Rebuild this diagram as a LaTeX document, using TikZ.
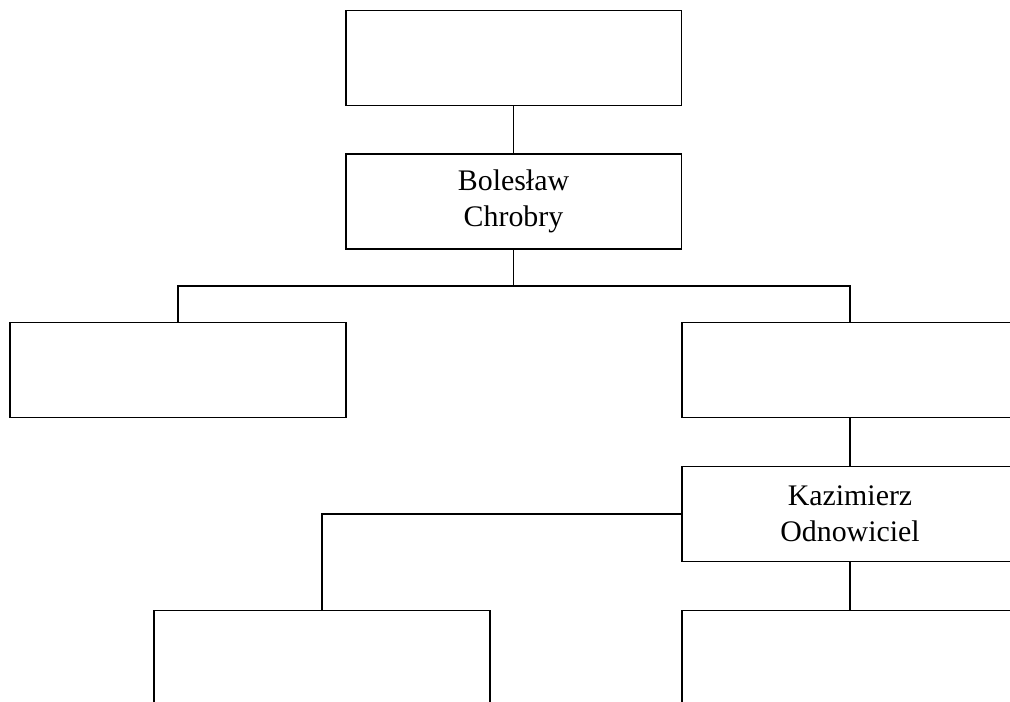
\documentclass[tikz,border=0pt]{standalone}
\usepackage{fontspec}
\setmainfont{Liberation Serif}
\usepackage{tikz}

\tikzset{
  osoba/.style={draw, line width=1.1pt, minimum width=6.72cm, minimum height=1.9cm,
    align=center, inner sep=2pt, font=\fontsize{17}{20.5}\selectfont},
  linia/.style={line width=1.1pt}
}

\begin{document}
\begin{tikzpicture}[x=0.02cm,y=-0.02cm]
\clip (0,0) rectangle (1010,702);
\node[osoba] (ojciec) at (513.5,58) {};
\node[osoba] (chrobry) at (513.5,201.5) {Bolesław\\Chrobry};
\node[osoba] (lewy) at (178,370) {};
\node[osoba] (prawy) at (850,370) {};
\node[osoba] (kazimierz) at (850,514) {Kazimierz\\Odnowiciel};
\node[osoba] (dolnylewy) at (322,658) {};
\node[osoba] (dolnyprawy) at (850,658) {};
\coordinate (szyna) at (513.5,286);
\draw[linia] (ojciec.south) -- (chrobry.north);
\draw[linia] (chrobry.south) -- (szyna);
\draw[linia] (lewy.north) |- (szyna) -| (prawy.north);
\draw[linia] (prawy.south) -- (kazimierz.north);
\draw[linia] (kazimierz.west) -| (dolnylewy.north);
\draw[linia] (kazimierz.south) -- (dolnyprawy.north);
\end{tikzpicture}
\end{document}
